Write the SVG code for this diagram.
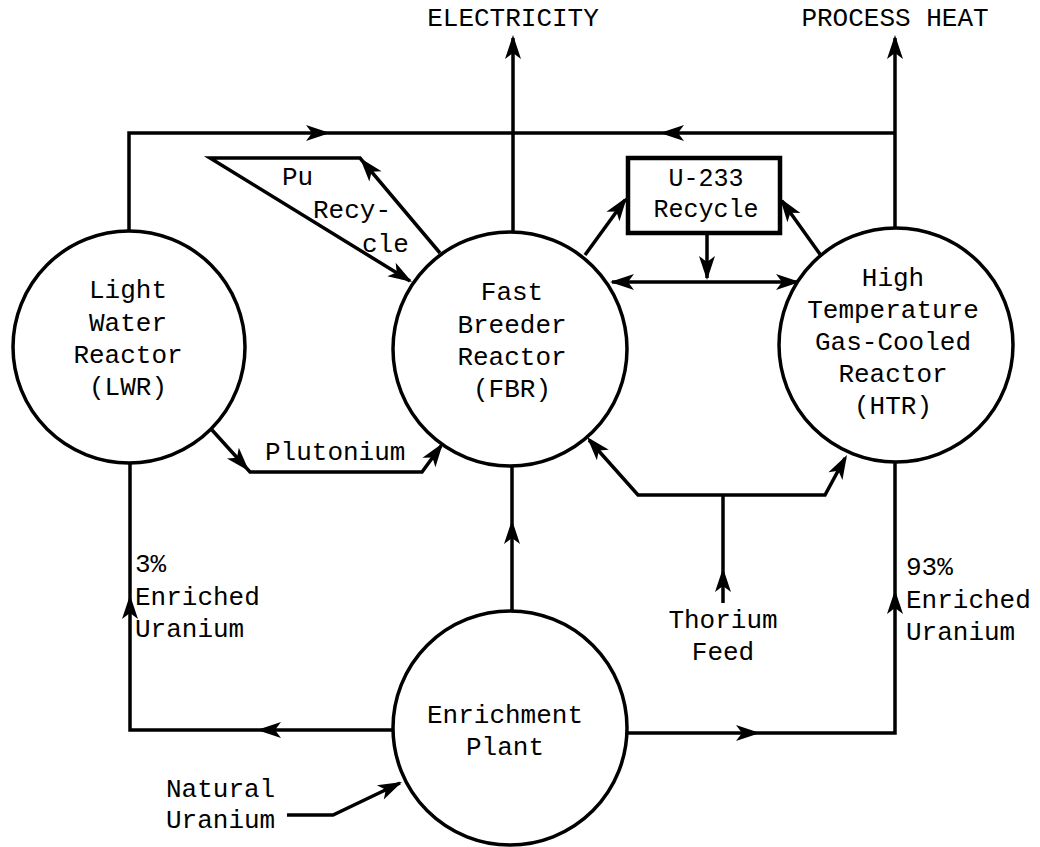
<svg xmlns="http://www.w3.org/2000/svg" xmlns:xlink="http://www.w3.org/1999/xlink" width="1040" height="847" viewBox="0 0 1040 847">
<style>
  .node { fill: #fff; stroke: #000; stroke-width: 3.5; }
  .box { fill: #fff; stroke: #000; stroke-width: 4.5; }
  .ln { fill: none; stroke: #000; stroke-width: 3.5; stroke-linejoin: miter; }
  text { font-family: "Liberation Mono", "Courier New", monospace; font-size: 26px; fill: #000; }
  .c { text-anchor: middle; }
  .sm { font-size: 25px; }
</style>
<defs>
  <path id="ah" d="M0,0 L-24,-8 L-18,0 L-24,8 Z" fill="#000"/>
</defs>
<rect width="1040" height="847" fill="#fff"/>

<g id="connectors">
  <path class="ln" d="M129,231 V133 H895"/>
  <path class="ln" d="M895,228 V38"/>
  <path class="ln" d="M513,232 V38"/>
  <path class="ln" d="M440,253 L360,158 H210 L410,281"/>
  <path class="ln" d="M585,255 L625,200"/>
  <path class="ln" d="M822,257 L782,201"/>
  <path class="ln" d="M707,233 V278"/>
  <path class="ln" d="M612,282 H798"/>
  <path class="ln" d="M212,430 L250,472 H422 L441,446"/>
  <path class="ln" d="M512,611 V466"/>
  <path class="ln" d="M589,440 L638,495 H825 L845,458"/>
  <path class="ln" d="M723,603 V495"/>
  <path class="ln" d="M393,730 H130 V463"/>
  <path class="ln" d="M627,733 H895 V462"/>
  <path class="ln" d="M287,815 H333 L400,783"/>

  <use xlink:href="#ah" transform="translate(330,133)"/>
  <use xlink:href="#ah" transform="translate(660,133) rotate(180)"/>
  <use xlink:href="#ah" transform="translate(513,35) rotate(-90)"/>
  <use xlink:href="#ah" transform="translate(895,35) rotate(-90)"/>
  <use xlink:href="#ah" transform="translate(360,158) rotate(-130.1)"/>
  <use xlink:href="#ah" transform="translate(412,282) rotate(31.5)"/>
  <use xlink:href="#ah" transform="translate(627,197) rotate(-54.1)"/>
  <use xlink:href="#ah" transform="translate(780,198) rotate(-125.4)"/>
  <use xlink:href="#ah" transform="translate(707,280) rotate(90)"/>
  <use xlink:href="#ah" transform="translate(610,282) rotate(180)"/>
  <use xlink:href="#ah" transform="translate(800,282)"/>
  <use xlink:href="#ah" transform="translate(249,471) rotate(47.9)"/>
  <use xlink:href="#ah" transform="translate(443,443) rotate(-54.1)"/>
  <use xlink:href="#ah" transform="translate(512,520) rotate(-90)"/>
  <use xlink:href="#ah" transform="translate(587,437) rotate(-131.3)"/>
  <use xlink:href="#ah" transform="translate(847,455) rotate(-61.2)"/>
  <use xlink:href="#ah" transform="translate(723,568) rotate(-90)"/>
  <use xlink:href="#ah" transform="translate(257,730) rotate(180)"/>
  <use xlink:href="#ah" transform="translate(130,595) rotate(-90)"/>
  <use xlink:href="#ah" transform="translate(760,733)"/>
  <use xlink:href="#ah" transform="translate(895,590) rotate(-90)"/>
  <use xlink:href="#ah" transform="translate(402,782) rotate(-25.6)"/>
</g>

<g id="lwr">
  <circle class="node" cx="129" cy="347" r="116"/>
  <text class="c" x="128" y="298">Light</text>
  <text class="c" x="128" y="331">Water</text>
  <text class="c" x="128" y="363">Reactor</text>
  <text class="c" x="128" y="395">(LWR)</text>
</g>

<g id="fbr">
  <circle class="node" cx="510" cy="349" r="117"/>
  <text class="c" x="512" y="300">Fast</text>
  <text class="c" x="512" y="333">Breeder</text>
  <text class="c" x="512" y="365">Reactor</text>
  <text class="c" x="512" y="397">(FBR)</text>
</g>

<g id="htr">
  <circle class="node" cx="896" cy="345" r="117"/>
  <text class="c" x="893" y="286">High</text>
  <text class="c" x="893" y="318">Temperature</text>
  <text class="c" x="893" y="350">Gas-Cooled</text>
  <text class="c" x="893" y="382">Reactor</text>
  <text class="c" x="893" y="414">(HTR)</text>
</g>

<g id="enrichment">
  <circle class="node" cx="510" cy="728" r="117"/>
  <text class="c" x="505" y="723">Enrichment</text>
  <text class="c" x="505" y="755">Plant</text>
</g>

<g id="u233">
  <rect class="box" x="628" y="158" width="152" height="75"/>
  <text class="c sm" x="706" y="186">U-233</text>
  <text class="c sm" x="706" y="217">Recycle</text>
</g>

<g id="labels">
  <text class="c" x="513" y="26">ELECTRICITY</text>
  <text class="c" x="895" y="26">PROCESS HEAT</text>
  <text x="282" y="185">Pu</text>
  <text x="313" y="218">Recy-</text>
  <text x="362" y="252">cle</text>
  <text x="265" y="460">Plutonium</text>
  <text x="135" y="572">3%</text>
  <text x="135" y="605">Enriched</text>
  <text x="135" y="637">Uranium</text>
  <text x="906" y="575">93%</text>
  <text x="906" y="608">Enriched</text>
  <text x="906" y="640">Uranium</text>
  <text class="c" x="723" y="628">Thorium</text>
  <text class="c" x="723" y="660">Feed</text>
  <text x="166" y="797">Natural</text>
  <text x="166" y="828">Uranium</text>
</g>
</svg>
